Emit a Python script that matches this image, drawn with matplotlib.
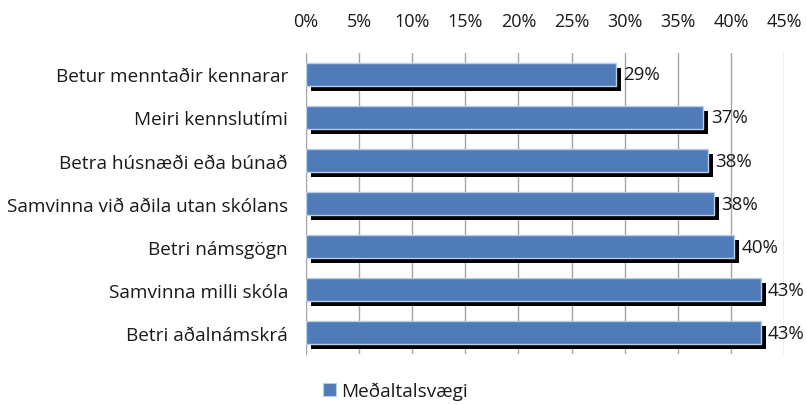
import matplotlib
matplotlib.use('Agg')
import matplotlib.pyplot as plt
import matplotlib.patheffects as pe
from matplotlib.patches import Patch
from matplotlib.ticker import MultipleLocator, FuncFormatter

# data (percent), top to bottom
categories = ['Betur menntaðir kennarar', 'Meiri kennslutími', 'Betra húsnæði eða búnað',
              'Samvinna við aðila utan skólans', 'Betri námsgögn', 'Samvinna milli skóla',
              'Betri aðalnámskrá']
values = [29.2, 37.4, 37.8, 38.4, 40.3, 42.8, 42.8]
series_name = 'Meðaltalsvægi'

plt.rcParams['font.family'] = ['Open Sans', 'DejaVu Sans']
bar_color = '#4f7bb8'
txt = '#1a1a1a'

fig = plt.figure(figsize=(8.07, 4.06), dpi=100)
ax = fig.add_axes([0.3792, 0.1256, 0.5923, 0.7414])

y = list(range(len(categories)))
bars = ax.barh(y, values, height=0.54, color=bar_color, edgecolor='#b9cde5',
               linewidth=1, zorder=3)
for b in bars:
    b.set_path_effects([pe.SimplePatchShadow(offset=(3.6, -3.6), shadow_rgbFace='black', alpha=1),
                        pe.Normal()])

for yi, v in zip(y, values):
    ax.text(v + 0.7, yi, f'{v:.0f}%', va='center', ha='left', fontsize=13.5, color=txt, zorder=4)

ax.set_xlim(0, 45)
ax.set_ylim(len(categories) - 0.5, -0.5)
ax.xaxis.set_major_locator(MultipleLocator(5))
ax.xaxis.set_major_formatter(FuncFormatter(lambda v, p: f'{v:.0f}%'))
ax.xaxis.tick_top()
ax.set_yticks(y)
ax.set_yticklabels(categories)
ax.tick_params(axis='x', length=0, pad=16.5, labelsize=13, colors=txt)
ax.tick_params(axis='y', length=0, pad=13, labelsize=13.7, colors=txt)
ax.grid(axis='x', color='#a6a6a6', linewidth=1, zorder=0)
for s in ['top', 'right', 'bottom']:
    ax.spines[s].set_visible(False)
ax.spines['left'].set_color('#a6a6a6')

handle = Patch(facecolor=bar_color, edgecolor='#b9cde5', linewidth=0.8)
fig.legend(handles=[handle], labels=[series_name], loc='center', bbox_to_anchor=(0.49, 0.034),
           frameon=False, fontsize=13.7, handlelength=0.7, handleheight=0.7, handletextpad=0.3,
           labelcolor=txt)

fig.savefig('out.png', dpi=100)
